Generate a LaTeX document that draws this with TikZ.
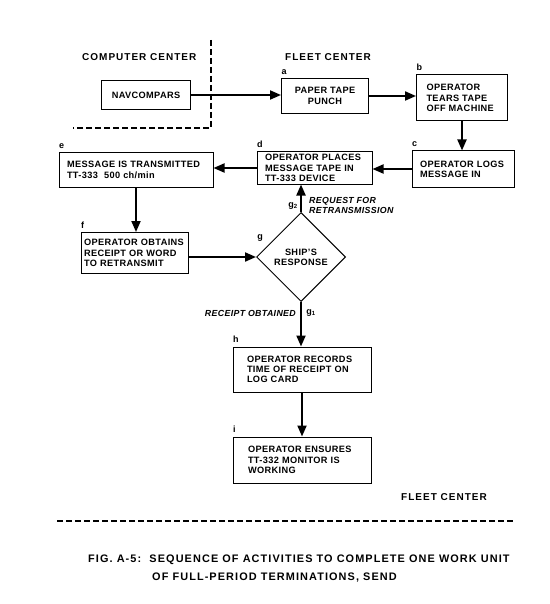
\documentclass[tikz,border=0pt]{standalone}
\usepackage{fontspec}
\setmainfont{Liberation Sans}[LetterSpace=4]
\newfontfamily\headfont{Liberation Sans}[LetterSpace=10]
\usetikzlibrary{shapes.geometric,arrows.meta,calc}
\begin{document}
\begin{tikzpicture}[x=1pt,y=-1pt,
  box/.style={draw, line width=1pt, align=left, inner ysep=0pt,
    font=\fontsize{9.2}{10.3}\selectfont\bfseries},
  cbox/.style={box, align=center},
  arr/.style={line width=2pt, -{Triangle[length=11pt,width=9pt]}},
  tag/.style={font=\fontsize{9}{10}\selectfont\bfseries, inner sep=0.5pt, anchor=south west},
  head/.style={font=\headfont\fontsize{10}{12}\selectfont\bfseries, inner sep=0pt},
  note/.style={font=\fontsize{8.8}{9.3}\selectfont\bfseries\itshape, inner sep=0pt, align=left},
  sep/.style={line width=1.4pt, dash pattern=on 6pt off 3pt}
]
\path[use as bounding box, fill=white] (0,0) rectangle (549,604);

% separators
\draw[sep] (211,40) -- (211,128) -- (73,128);
\draw[sep] (57,521) -- (515,521);

% headings
\node[head, anchor=west] (hcc) at (82,57) {COMPUTER CENTER};
\node[head, anchor=west] (hfc) at (285,57) {FLEET CENTER};
\node[head, anchor=west] (hfc2) at (401,497) {FLEET CENTER};
\node[head, anchor=west, align=left, font=\headfont\fontsize{10.9}{18}\selectfont\bfseries] (cap) at (88,569)
  {FIG. A-5:\ \ SEQUENCE OF ACTIVITIES TO COMPLETE ONE WORK UNIT\\
   \hspace*{64pt}OF FULL-PERIOD TERMINATIONS, SEND};

% boxes
\node[cbox, minimum width=89, minimum height=29] (nav) at (146,95) {NAVCOMPARS};
\node[cbox, minimum width=87, minimum height=35] (a) at (325,96) {PAPER TAPE\\PUNCH};
\node[box, text width=71, inner xsep=10, minimum height=46] (b) at (462,98)
  {OPERATOR\\TEARS TAPE\\OFF MACHINE};
\node[box, text width=86, inner xsep=8, minimum height=36] (c) at (463,169)
  {OPERATOR LOGS\\MESSAGE IN};
\node[box, text width=99, inner xsep=8, minimum height=32] (d) at (314.5,168)
  {OPERATOR PLACES\\MESSAGE TAPE IN\\TT-333 DEVICE};
\node[box, text width=138, inner xsep=8, minimum height=34] (e) at (136,170)
  {MESSAGE IS TRANSMITTED\\TT-333\ \ 500 ch/min};
\node[box, text width=101, inner xsep=3, minimum height=41] (f) at (134.5,253)
  {OPERATOR OBTAINS\\RECEIPT OR WORD\\TO RETRANSMIT};
\node[draw, diamond, line width=1pt, minimum width=89, minimum height=89, inner sep=0pt,
  align=center, font=\fontsize{9.2}{10.3}\selectfont\bfseries] (g) at (301,257) {SHIP'S\\RESPONSE};
\node[box, text width=110, inner xsep=14, minimum height=45] (h) at (302,369.5)
  {OPERATOR RECORDS\\TIME OF RECEIPT ON\\LOG CARD};
\node[box, text width=108, inner xsep=15, minimum height=46] (i) at (302,460)
  {OPERATOR ENSURES\\TT-332 MONITOR IS\\WORKING};

% letters
\node[tag, yshift=3pt] (la) at (a.north west) {a};
\node[tag, yshift=3pt] (lb) at (b.north west) {b};
\node[tag, yshift=3pt] (lc) at (c.north west) {c};
\node[tag, yshift=3pt] (ld) at (d.north west) {d};
\node[tag, yshift=3pt] (le) at (e.north west) {e};
\node[tag, yshift=3pt] (lf) at (f.north west) {f};
\node[tag, yshift=3pt] (lh) at (h.north west) {h};
\node[tag, yshift=3pt] (li) at (i.north west) {i};
\node[font=\fontsize{9}{10}\selectfont\bfseries, inner sep=0pt] (lg) at (260,238) {g};
\node[font=\fontsize{9}{10}\selectfont\bfseries, inner sep=0pt] (lg2) at (293,206) {g\textsubscript{2}};
\node[font=\fontsize{9}{10}\selectfont\bfseries, inner sep=0pt] (lg1) at (311,313) {g\textsubscript{1}};

% notes
\node[note, anchor=west] (req) at (309,205.5) {REQUEST FOR\\RETRANSMISSION};
\node[note, anchor=east] (rec) at (296,313) {RECEIPT OBTAINED};

% connectors
\draw[arr] (nav.east) -- (nav.east -| a.west);
\draw[arr] (a.east) -- (a.east -| b.west);
\draw[arr] (b.south) -- (b.south |- c.north);
\draw[arr] (c.west) -- (c.west -| d.east);
\draw[arr] (d.west) -- (d.west -| e.east);
\draw[arr] (e.south) -- (e.south |- f.north);
\draw[arr] (g.west -| f.east) -- (g.west);
\draw[arr] (g.north) -- (g.north |- d.south);
\draw[arr] (g.south) -- (g.south |- h.north);
\draw[arr] (h.south) -- (h.south |- i.north);
\end{tikzpicture}
\end{document}
